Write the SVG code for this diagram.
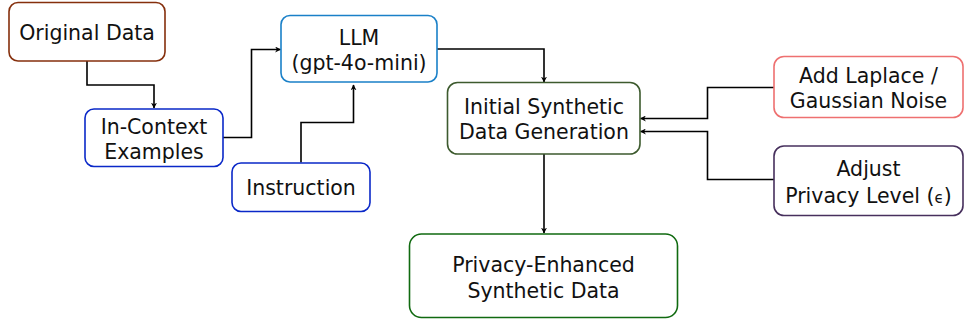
<svg xmlns="http://www.w3.org/2000/svg" width="966" height="322" viewBox="0 0 966 322">
<style>
.box{fill:#ffffff;stroke-width:1.6}
.t{font-family:"DejaVu Sans",Verdana,sans-serif;font-size:20.5px;fill:#111111;text-anchor:middle}
.c{fill:none;stroke:#000000;stroke-width:1.6}
</style>
<defs>
<marker id="ah" viewBox="0 0 10 10" refX="9" refY="5" markerWidth="6" markerHeight="6" orient="auto" markerUnits="userSpaceOnUse">
<path d="M0,0 L10,5 L0,10 L3,5 Z" fill="#000000"/>
</marker>
</defs>
<g id="connectors">
<path class="c" d="M87,61 V85 H154 V108" marker-end="url(#ah)"/>
<path class="c" d="M223,137.5 H251.5 V49.5 H280.5" marker-end="url(#ah)"/>
<path class="c" d="M301,162.5 V122.5 H353.5 V85" marker-end="url(#ah)"/>
<path class="c" d="M437,49 H544 V82" marker-end="url(#ah)"/>
<path class="c" d="M774,87.5 H707.5 V118.5 H640.5" marker-end="url(#ah)"/>
<path class="c" d="M774,179.5 H707.5 V131.5 H640.5" marker-end="url(#ah)"/>
<path class="c" d="M544,154 V233" marker-end="url(#ah)"/>
</g>
<g id="original-data">
<rect class="box" x="9" y="2.5" width="156" height="58.5" rx="9" stroke="#852f0c"/>
<text class="t" x="87" y="40">Original Data</text>
</g>
<g id="in-context">
<rect class="box" x="85" y="109" width="138" height="57.5" rx="9" stroke="#0a28c8"/>
<text class="t" x="154" y="133.5">In-Context</text>
<text class="t" x="154" y="158.5">Examples</text>
</g>
<g id="llm">
<rect class="box" x="281" y="15.5" width="156" height="66.5" rx="9" stroke="#1a80c8"/>
<text class="t" x="359" y="44.5">LLM</text>
<text class="t" x="359" y="69.5">(gpt-4o-mini)</text>
</g>
<g id="instruction">
<rect class="box" x="232" y="163" width="138" height="48.5" rx="9" stroke="#0a28c8"/>
<text class="t" x="301" y="195">Instruction</text>
</g>
<g id="initial">
<rect class="box" x="447.5" y="82.5" width="192.5" height="71.5" rx="10" stroke="#3d5a2e"/>
<text class="t" x="544" y="114">Initial Synthetic</text>
<text class="t" x="544" y="139">Data Generation</text>
</g>
<g id="noise">
<rect class="box" x="774" y="56.5" width="189" height="61" rx="10" stroke="#ee7070"/>
<text class="t" x="868.5" y="82.5">Add Laplace /</text>
<text class="t" x="868.5" y="107.5">Gaussian Noise</text>
</g>
<g id="privacy-level">
<rect class="box" x="774" y="146" width="189" height="69.5" rx="10" stroke="#47305d"/>
<text class="t" x="868.5" y="175.5">Adjust</text>
<text class="t" x="868.5" y="202.5">Privacy Level (<tspan font-size="15">ϵ</tspan>)</text>
</g>
<g id="result">
<rect class="box" x="409.5" y="234" width="268" height="83.5" rx="12" stroke="#106a10" stroke-width="2.6"/>
<text class="t" x="543.5" y="272">Privacy-Enhanced</text>
<text class="t" x="543.5" y="297.5">Synthetic Data</text>
</g>
</svg>
